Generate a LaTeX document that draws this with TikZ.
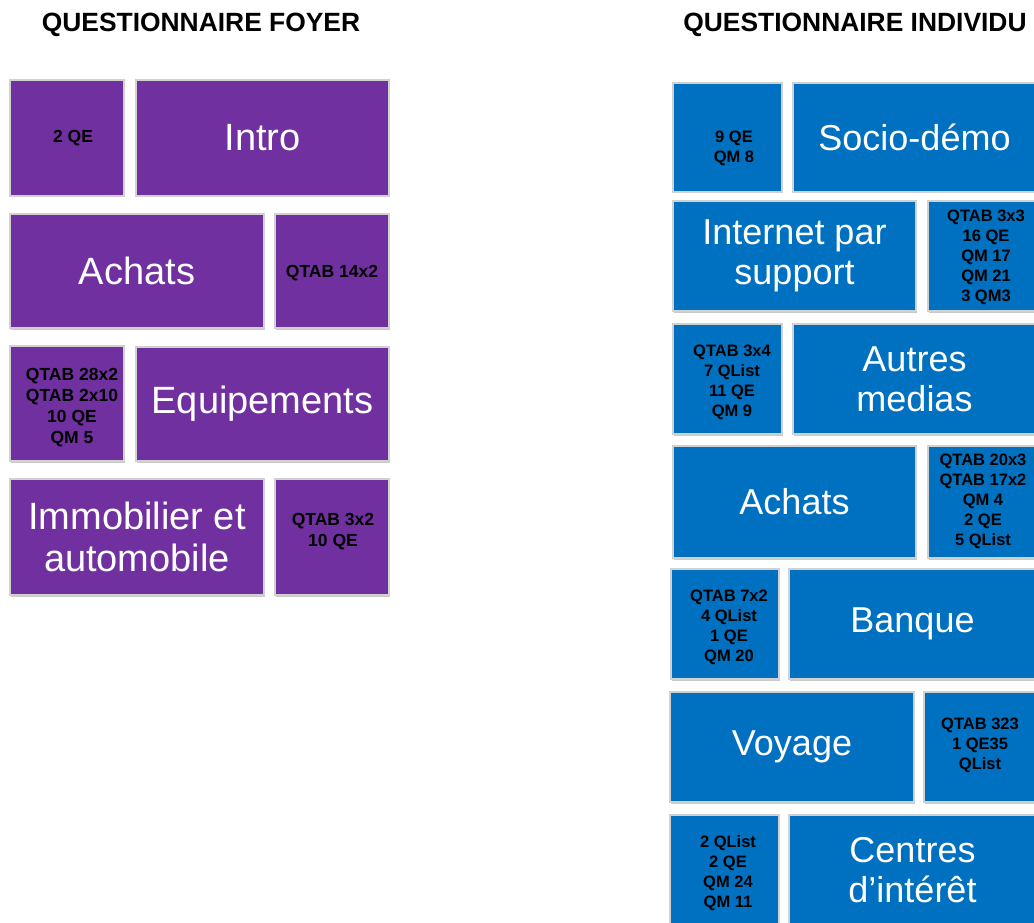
\documentclass[tikz,border=0pt]{standalone}
\usepackage{fontspec}
\setmainfont{Liberation Sans}
\usetikzlibrary{shadows}
\definecolor{foyer}{HTML}{7030A0}
\definecolor{indiv}{HTML}{0070C0}
\begin{document}
\begin{tikzpicture}[x=1pt,y=-1pt,
  tile/.style={draw=black!18, line width=1.2pt, inner sep=0pt, anchor=center,
    drop shadow={shadow xshift=1pt, shadow yshift=-1.5pt, opacity=0.35, fill=black!60}},
  ftile/.style={tile, fill=foyer},
  itile/.style={tile, fill=indiv},
  bigL/.style={text=white, align=center, font=\fontsize{38}{42}\selectfont},
  bigR/.style={text=white, align=center, font=\fontsize{36}{40}\selectfont},
  smL/.style={text=black, align=center, font=\fontsize{17.5}{21}\selectfont\bfseries},
  smR/.style={text=black, align=center, font=\fontsize{16.5}{20}\selectfont\bfseries},
  title/.style={anchor=base, font=\fontsize{26.4}{30}\selectfont\bfseries}]
\clip (0,0) rectangle (1034,923);
\fill[white] (0,0) rectangle (1034,923);

% column titles
\node[title] (tfoyer) at (201,32) {QUESTIONNAIRE FOYER};
\node[title] (tindiv) at (855,32) {QUESTIONNAIRE INDIVIDU};

% household questionnaire
\node[ftile, minimum width=114, minimum height=116,
  label={[smL, xshift=6]center:{2 QE}}] (f1s) at (67,138) {};
\node[ftile, bigL, minimum width=253, minimum height=116] (f1) at (262.5,138) {Intro};
\node[ftile, bigL, minimum width=254, minimum height=114] (f2) at (137,271) {Achats};
\node[ftile, minimum width=114, minimum height=114,
  label={[smL, yshift=-2]center:{QTAB 14x2}}] (f2s) at (332,271) {};
\node[ftile, minimum width=114, minimum height=115,
  label={[smL, xshift=5, yshift=-4.5]center:{QTAB 28x2\\QTAB 2x10\\10 QE\\QM 5}}] (f3s) at (67,403.5) {};
\node[ftile, bigL, minimum width=253, minimum height=114] (f3) at (262.5,404) {Equipements};
\node[ftile, bigL, minimum width=254, minimum height=116] (f4) at (137,537) {Immobilier et\\automobile};
\node[ftile, minimum width=114, minimum height=116,
  label={[smL, xshift=1, yshift=5.5]center:{QTAB 3x2\\10 QE}}] (f4s) at (332,537) {};

% individual questionnaire
\node[itile, minimum width=109, minimum height=109,
  label={[smR, xshift=6.5, yshift=-10.5]center:{9 QE\\QM 8}}] (i1s) at (727.5,137.5) {};
\node[itile, bigR, minimum width=243, minimum height=109] (i1) at (914.5,137.5) {Socio-démo};
\node[itile, bigR, minimum width=243, minimum height=110] (i2) at (794.5,256) {Internet par\\support};
\node[itile, minimum width=108, minimum height=110,
  label={[smR, xshift=4, yshift=-1.5]center:{QTAB 3x3\\16 QE\\QM 17\\QM 21\\3 QM3}}] (i2s) at (982,256) {};
\node[itile, minimum width=109, minimum height=110,
  label={[smR, xshift=4.5, yshift=-3]center:{QTAB 3x4\\7 QList\\11 QE\\QM 9}}] (i3s) at (727.5,379) {};
\node[itile, bigR, minimum width=243, minimum height=110] (i3) at (914.5,379) {Autres\\medias};
\node[itile, bigR, minimum width=243, minimum height=112] (i4) at (794.5,502) {Achats};
\node[itile, minimum width=108, minimum height=112,
  label={[smR, xshift=1, yshift=1]center:{QTAB 20x3\\QTAB 17x2\\QM 4\\2 QE\\5 QList}}] (i4s) at (982,502) {};
\node[itile, minimum width=108, minimum height=110,
  label={[smR, xshift=4, yshift=-3.5]center:{QTAB 7x2\\4 QList\\1 QE\\QM 20}}] (i5s) at (725,624) {};
\node[itile, bigR, minimum width=247, minimum height=110] (i5) at (912.5,624) {Banque};
\node[itile, bigR, minimum width=244, minimum height=110] (i6) at (792,747) {Voyage};
\node[itile, minimum width=112, minimum height=110,
  label={[smR, yshift=2]center:{QTAB 323\\1 QE35\\QList}}] (i6s) at (980,747) {};
\node[itile, minimum width=109, minimum height=110,
  label={[smR, xshift=3.5, yshift=-3]center:{2 QList\\2 QE\\QM 24\\QM 11}}] (i7s) at (724.5,870) {};
\node[itile, bigR, minimum width=247, minimum height=110] (i7) at (912.5,870) {Centres\\d’intérêt};
\end{tikzpicture}
\end{document}
